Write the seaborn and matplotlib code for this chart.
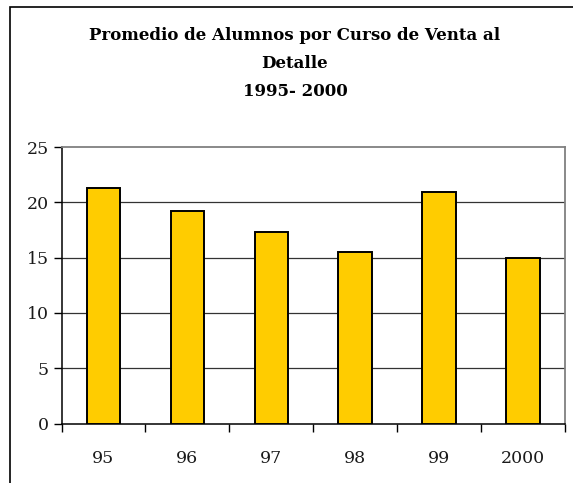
import matplotlib
matplotlib.use("Agg")
import matplotlib.pyplot as plt
import seaborn as sns
import pandas as pd
from matplotlib.patches import Rectangle

# Data
years = ["95", "96", "97", "98", "99", "2000"]
promedio = [21.3, 19.2, 17.3, 15.5, 20.9, 15.0]
yticks = [0, 5, 10, 15, 20, 25]
title_lines = ["Promedio de Alumnos por Curso de Venta al", "Detalle", "1995- 2000"]

df = pd.DataFrame({"anio": years, "promedio": promedio})

sns.set_style("white")
plt.rcParams["font.family"] = ["DejaVu Serif"]
plt.rcParams["text.color"] = "black"

fig = plt.figure(figsize=(5.73, 4.83), dpi=100)
W, H = 573, 483
ax = fig.add_axes([61.5 / W, 1 - 423.5 / H, (565 - 61.5) / W, (423.5 - 147) / H])

# Bars
sns.barplot(data=df, x="anio", y="promedio", color="#FFCC00", saturation=1,
            width=0.4, edgecolor="black", linewidth=1.4, ax=ax, zorder=3)

ax.set_ylim(0, 25)
ax.set_xlim(-0.5, len(years) - 0.5)
ax.set_yticks(yticks)
ax.set_yticklabels([str(t) for t in yticks], fontsize=12.5, color="#1a1a1a")
ax.set_xlabel("")
ax.set_ylabel("")

# Grid lines (top one is the plot border)
for t in yticks[1:-1]:
    ax.axhline(t, color="#333333", linewidth=0.9, zorder=1)

# Category ticks between bars
ax.set_xticks(range(len(years)))
ax.set_xticklabels(years, fontsize=12.5, color="#1a1a1a")
ax.tick_params(axis="x", which="major", bottom=False, length=0, pad=19)
ax.set_xticks([i - 0.5 for i in range(len(years) + 1)], minor=True)
ax.tick_params(axis="x", which="minor", bottom=True, length=6, width=1,
               color="black", direction="out")
ax.tick_params(axis="y", left=True, length=6, width=1, color="black",
               direction="out", pad=3)

for side in ["left", "bottom"]:
    ax.spines[side].set_color("black")
    ax.spines[side].set_linewidth(1.1)
for side in ["top", "right"]:
    ax.spines[side].set_color("#808080")
    ax.spines[side].set_linewidth(1.3)

# Title
for i, line in enumerate(title_lines):
    fig.text(295 / W, 1 - (36 + 27.5 * i) / H, line, color="black",
             ha="center", va="center", fontsize=12, fontweight="bold")

# Outer frame of the chart
fig.patches.append(Rectangle((10 / W, -0.05), 1.2, 1 - 7 / H + 0.05,
                             transform=fig.transFigure, fill=False,
                             edgecolor="black", linewidth=1.2))

fig.savefig("out.png", dpi=100)
